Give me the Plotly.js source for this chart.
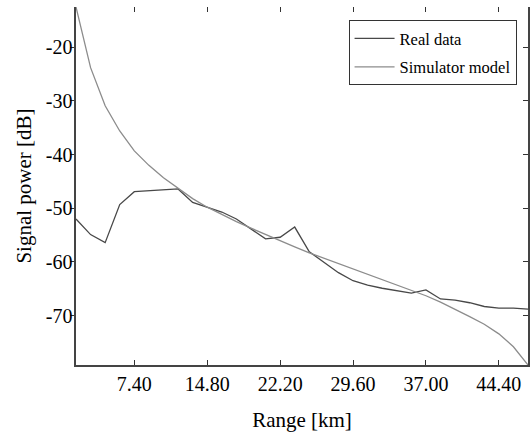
<!DOCTYPE html>
<html>
<head>
<meta charset="utf-8">
<script src="https://cdn.plot.ly/plotly-3.0.1.min.js"></script>
<style>html,body{margin:0;padding:0;background:#fff;}#chart{width:532px;height:432px;}</style>
</head>
<body>
<div id="chart"></div>
<script>
// Range samples [km]
const rangeKm = [1.48, 2.96, 4.44, 5.92, 7.40, 8.88, 10.36, 11.84, 13.32, 14.80,
  16.28, 17.76, 19.24, 20.72, 22.20, 23.68, 25.16, 26.64, 28.12, 29.60,
  31.08, 32.56, 34.04, 35.52, 37.00, 38.48, 39.96, 41.44, 42.92, 44.40,
  45.88, 47.36];
// Measured signal power [dB]
const realData = [-52.0, -54.9, -56.4, -49.3, -46.9, -46.7, -46.6, -46.4, -48.9, -49.8,
  -50.7, -52.0, -53.8, -55.7, -55.4, -53.5, -58.1, -60.1, -62.0, -63.5,
  -64.3, -64.9, -65.4, -65.8, -65.2, -66.9, -67.1, -67.6, -68.3, -68.6,
  -68.6, -68.8];
// Simulator model [dB]
const simModel = [-12.5, -23.8, -30.9, -35.6, -39.3, -42.0, -44.3, -46.3, -48.2, -49.8,
  -51.2, -52.5, -53.7, -54.9, -56.0, -57.2, -58.3, -59.3, -60.3, -61.3,
  -62.3, -63.3, -64.3, -65.2, -66.3, -67.5, -68.8, -70.2, -71.6, -73.4,
  -75.8, -79.2];
const seriesNames = ["Real data", "Simulator model"];
const xTickVals = [7.40, 14.80, 22.20, 29.60, 37.00, 44.40];
const xTickText = ["7.40", "14.80", "22.20", "29.60", "37.00", "44.40"];
const yTickVals = [-20, -30, -40, -50, -60, -70];
const yTickText = ["-20", "-30", "-40", "-50", "-60", "-70"];

const FONT = "'Liberation Serif', 'Times New Roman', serif";

const traces = [
  {x: rangeKm, y: realData, type: "scatter", mode: "lines", name: seriesNames[0],
   legendgroup: "a", line: {color: "#484848", width: 1.3}},
  {x: rangeKm, y: simModel, type: "scatter", mode: "lines", name: seriesNames[1],
   legendgroup: "b", line: {color: "#8c8c8c", width: 1.3}},
  {x: [rangeKm[0]], y: [simModel[0]], xaxis: "x2", yaxis: "y2", type: "scatter",
   mode: "lines", showlegend: false, hoverinfo: "skip", line: {width: 0}}
];

const layout = {
  width: 532, height: 432,
  margin: {l: 76, r: 4, t: 7, b: 67},
  paper_bgcolor: "#fff", plot_bgcolor: "#fff",
  font: {family: FONT, size: 20, color: "#000"},
  showlegend: true,
  legend: {
    x: 0.603, y: 0.963, xanchor: "left", yanchor: "top",
    bgcolor: "#fff", bordercolor: "#333", borderwidth: 1,
    font: {family: FONT, size: 16.5, color: "#000"},
    tracegroupgap: 4, itemwidth: 40
  },
  xaxis: {
    range: [1.48, 47.36], tickmode: "array", tickvals: xTickVals, ticktext: xTickText,
    ticks: "inside", ticklen: 5, tickwidth: 1, tickcolor: "#333",
    showline: true, linecolor: "#444", linewidth: 1.6, showgrid: false, zeroline: false,
    tickfont: {family: FONT, size: 20}, automargin: false,
    title: {text: "Range [km]", font: {family: FONT, size: 21}, standoff: 19}
  },
  yaxis: {
    range: [-79.2, -12.5], tickmode: "array", tickvals: yTickVals, ticktext: yTickText,
    ticks: "outside", ticklen: 4, tickwidth: 1, tickcolor: "#333", ticklabelstandoff: -6,
    showline: true, linecolor: "#444", linewidth: 1.6, showgrid: false, zeroline: false,
    tickfont: {family: FONT, size: 20}, automargin: false,
    title: {text: "Signal power [dB]", font: {family: FONT, size: 21}, standoff: 8}
  },
  xaxis2: {
    overlaying: "x", side: "top", matches: "x", range: [1.48, 47.36],
    tickmode: "array", tickvals: xTickVals, showticklabels: false,
    ticks: "inside", ticklen: 5, tickwidth: 1, tickcolor: "#333",
    showline: false, showgrid: false, zeroline: false
  },
  yaxis2: {
    overlaying: "y", side: "right", matches: "y", range: [-79.2, -12.5],
    tickmode: "array", tickvals: yTickVals, showticklabels: false,
    ticks: "inside", ticklen: 5, tickwidth: 1, tickcolor: "#333",
    showline: true, linecolor: "#444", linewidth: 1.6, showgrid: false, zeroline: false
  }
};

Plotly.newPlot("chart", traces, layout, {staticPlot: true, displayModeBar: false});
</script>
</body>
</html>
